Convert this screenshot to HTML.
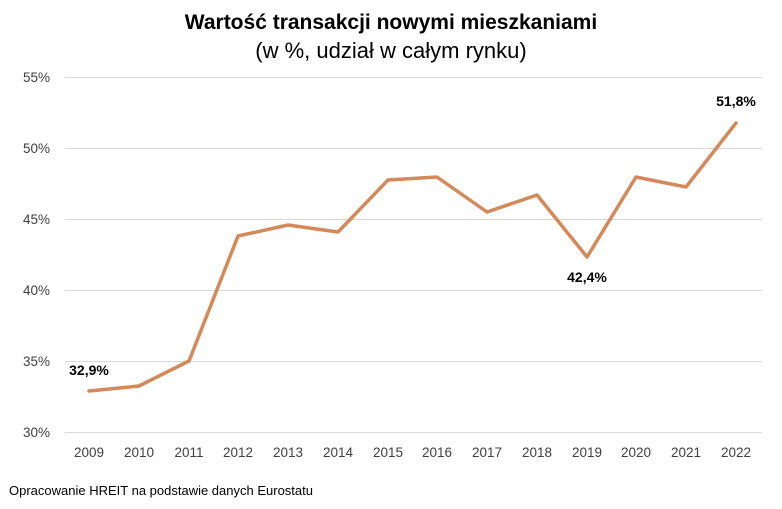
<!DOCTYPE html>
<html><head><meta charset="utf-8"><style>
html,body{margin:0;padding:0;background:#fff;}
svg{display:block;font-family:"Liberation Sans",Arial,sans-serif;}
</style></head><body>
<svg width="782" height="509" viewBox="0 0 782 509" xmlns="http://www.w3.org/2000/svg">
<rect width="782" height="509" fill="#fff"/>
<text x="391" y="29" text-anchor="middle" font-size="21" font-weight="bold" fill="#000">Wartość transakcji nowymi mieszkaniami</text>
<text x="391" y="58" text-anchor="middle" font-size="22" fill="#000">(w %, udział w całym rynku)</text>
<g stroke="#d9d9d9" stroke-width="1">
<line x1="65" x2="762" y1="77.5" y2="77.5"/>
<line x1="65" x2="762" y1="148.5" y2="148.5"/>
<line x1="65" x2="762" y1="219.5" y2="219.5"/>
<line x1="65" x2="762" y1="290.5" y2="290.5"/>
<line x1="65" x2="762" y1="361.5" y2="361.5"/>
<line x1="65" x2="762" y1="432.5" y2="432.5"/>
</g>
<g font-size="13.5" fill="#404040" text-anchor="end">
<text x="50" y="82">55%</text>
<text x="50" y="153">50%</text>
<text x="50" y="224">45%</text>
<text x="50" y="295">40%</text>
<text x="50" y="366">35%</text>
<text x="50" y="437">30%</text>
</g>
<g font-size="13.5" fill="#404040" text-anchor="middle">
<text x="89" y="457">2009</text><text x="139" y="457">2010</text><text x="189" y="457">2011</text>
<text x="238" y="457">2012</text><text x="288" y="457">2013</text><text x="338" y="457">2014</text>
<text x="388" y="457">2015</text><text x="437" y="457">2016</text><text x="487" y="457">2017</text>
<text x="537" y="457">2018</text><text x="587" y="457">2019</text><text x="636" y="457">2020</text>
<text x="686" y="457">2021</text><text x="736" y="457">2022</text>
</g>
<polyline fill="none" stroke="#d4895a" stroke-width="3.5" stroke-linejoin="round" stroke-linecap="round"
points="89,391 139,386 189,361 238,236 288,225 338,232 388,180 437,177 487,212 537,195 587,257 636,177 686,187 736,123"/>
<g font-size="14" font-weight="bold" fill="#000" text-anchor="middle">
<text x="89" y="375">32,9%</text>
<text x="587" y="282">42,4%</text>
<text x="736" y="106">51,8%</text>
</g>
<text x="9" y="495" font-size="13" fill="#000">Opracowanie HREIT na podstawie danych Eurostatu</text>
</svg>
</body></html>
